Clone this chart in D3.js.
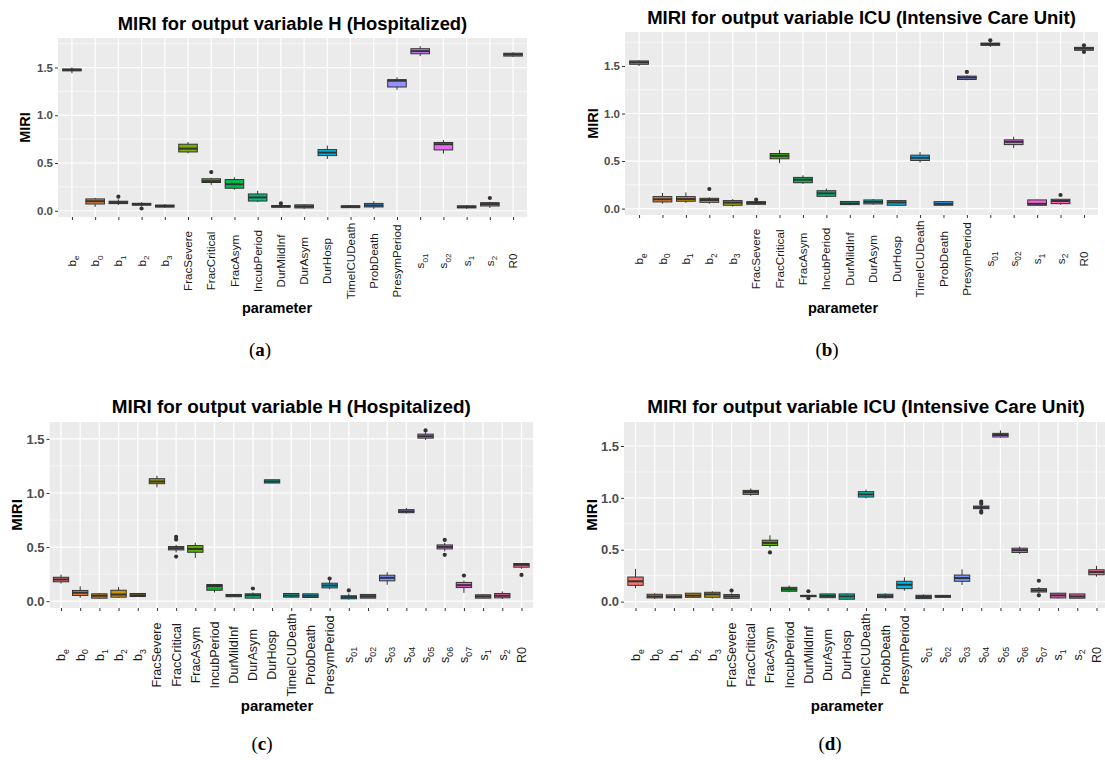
<!DOCTYPE html>
<html>
<head>
<meta charset="utf-8">
<script src="https://cdn.jsdelivr.net/npm/d3@7"></script>
<style>
  body { margin: 0; background: #fff; }
  svg { display: block; font-family: "Liberation Sans", Arial, sans-serif; }
</style>
</head>
<body>
<svg id="chart" width="1105" height="760"></svg>
<script>
// parameter names, "_" marks a subscript
const paramsAB = ["b_e", "b_0", "b_1", "b_2", "b_3", "FracSevere", "FracCritical", "FracAsym",
  "IncubPeriod", "DurMildInf", "DurAsym", "DurHosp", "TimeICUDeath", "ProbDeath", "PresymPeriod",
  "s_01", "s_02", "s_1", "s_2", "R0"];
const paramsCD = ["b_e", "b_0", "b_1", "b_2", "b_3", "FracSevere", "FracCritical", "FracAsym",
  "IncubPeriod", "DurMildInf", "DurAsym", "DurHosp", "TimeICUDeath", "ProbDeath", "PresymPeriod",
  "s_01", "s_02", "s_03", "s_04", "s_05", "s_06", "s_07", "s_1", "s_2", "R0"];

// [lower whisker, q1, median, q3, upper whisker] per parameter
const boxA = [
  [1.44, 1.465, 1.475, 1.485, 1.50], [0.04, 0.071, 0.10, 0.124, 0.135], [0.06, 0.075, 0.088, 0.10, 0.12],
  [0.045, 0.058, 0.07, 0.078, 0.09], [0.03, 0.038, 0.05, 0.06, 0.07], [0.60, 0.616, 0.651, 0.697, 0.72],
  [0.27, 0.296, 0.31, 0.335, 0.345], [0.22, 0.236, 0.278, 0.327, 0.35], [0.09, 0.102, 0.14, 0.176, 0.21],
  [0.03, 0.038, 0.045, 0.055, 0.06], [0.02, 0.03, 0.045, 0.062, 0.07], [0.542, 0.578, 0.609, 0.641, 0.683],
  [0.03, 0.033, 0.045, 0.052, 0.06], [0.02, 0.04, 0.056, 0.077, 0.10], [1.267, 1.296, 1.362, 1.373, 1.397],
  [1.619, 1.644, 1.672, 1.697, 1.724], [0.598, 0.637, 0.697, 0.715, 0.739], [0.02, 0.03, 0.04, 0.052, 0.06],
  [0.03, 0.05, 0.07, 0.085, 0.095], [1.61, 1.62, 1.637, 1.65, 1.66]
];
const outA = [["b_1", 0.148], ["b_2", 0.024], ["FracCritical", 0.405], ["DurMildInf", 0.077], ["s_2", 0.134]];

const boxB = [
  [1.50, 1.518, 1.539, 1.553, 1.56], [0.052, 0.070, 0.098, 0.126, 0.164], [0.06, 0.077, 0.10, 0.126, 0.17],
  [0.05, 0.066, 0.09, 0.108, 0.12], [0.02, 0.035, 0.063, 0.084, 0.10], [0.04, 0.045, 0.06, 0.073, 0.08],
  [0.479, 0.524, 0.555, 0.579, 0.618], [0.26, 0.272, 0.304, 0.328, 0.35], [0.12, 0.129, 0.16, 0.188, 0.21],
  [0.035, 0.042, 0.055, 0.075, 0.08], [0.04, 0.049, 0.07, 0.091, 0.10], [0.03, 0.035, 0.065, 0.084, 0.09],
  [0.485, 0.506, 0.534, 0.562, 0.594], [0.03, 0.035, 0.05, 0.073, 0.08], [1.35, 1.358, 1.379, 1.393, 1.40],
  [1.70, 1.717, 1.731, 1.741, 1.75], [0.636, 0.673, 0.702, 0.723, 0.757], [0.03, 0.035, 0.05, 0.091, 0.095],
  [0.04, 0.052, 0.08, 0.098, 0.10], [1.66, 1.665, 1.683, 1.696, 1.70]
];
const outB = [["b_2", 0.206], ["FracSevere", 0.094], ["PresymPeriod", 1.438], ["s_01", 1.77],
  ["s_2", 0.143], ["R0", 1.717], ["R0", 1.647]];

const boxC = [
  [0.163, 0.179, 0.20, 0.221, 0.246], [0.031, 0.053, 0.077, 0.099, 0.138], [0.02, 0.028, 0.05, 0.068, 0.075],
  [0.03, 0.037, 0.062, 0.101, 0.13], [0.04, 0.043, 0.055, 0.071, 0.075], [1.052, 1.086, 1.107, 1.132, 1.16],
  [0.45, 0.474, 0.489, 0.505, 0.52], [0.40, 0.452, 0.483, 0.514, 0.541], [0.08, 0.101, 0.14, 0.154, 0.16],
  [0.04, 0.041, 0.052, 0.062, 0.065], [0.02, 0.028, 0.055, 0.068, 0.08], [1.09, 1.092, 1.107, 1.122, 1.125],
  [0.03, 0.037, 0.052, 0.071, 0.075], [0.03, 0.034, 0.05, 0.068, 0.07], [0.11, 0.123, 0.145, 0.166, 0.19],
  [0.015, 0.022, 0.037, 0.05, 0.07], [0.025, 0.028, 0.045, 0.062, 0.065], [0.151, 0.188, 0.216, 0.24, 0.268],
  [0.81, 0.818, 0.83, 0.846, 0.86], [1.49, 1.507, 1.525, 1.544, 1.56], [0.46, 0.483, 0.502, 0.52, 0.54],
  [0.077, 0.126, 0.148, 0.173, 0.19], [0.025, 0.028, 0.044, 0.059, 0.065], [0.02, 0.031, 0.05, 0.071, 0.09],
  [0.30, 0.314, 0.336, 0.348, 0.35]
];
const outC = [["FracCritical", 0.594], ["FracCritical", 0.569], ["FracCritical", 0.412], ["DurAsym", 0.117],
  ["PresymPeriod", 0.209], ["s_01", 0.099], ["s_05", 1.578], ["s_06", 0.566], ["s_06", 0.428],
  ["s_07", 0.237], ["R0", 0.243]];

const boxD = [
  [0.129, 0.157, 0.196, 0.237, 0.314], [0.025, 0.036, 0.05, 0.071, 0.08], [0.03, 0.036, 0.046, 0.065, 0.07],
  [0.035, 0.042, 0.058, 0.081, 0.085], [0.03, 0.042, 0.07, 0.09, 0.10], [0.03, 0.032, 0.05, 0.068, 0.08],
  [1.02, 1.034, 1.056, 1.072, 1.09], [0.522, 0.541, 0.566, 0.592, 0.64], [0.09, 0.10, 0.12, 0.138, 0.155],
  [0.045, 0.048, 0.055, 0.06, 0.065], [0.035, 0.038, 0.055, 0.074, 0.075], [0.02, 0.023, 0.05, 0.074, 0.08],
  [0.995, 1.008, 1.034, 1.06, 1.08], [0.03, 0.038, 0.052, 0.071, 0.08], [0.106, 0.125, 0.163, 0.196, 0.234],
  [0.025, 0.029, 0.045, 0.061, 0.07], [0.04, 0.042, 0.05, 0.06, 0.065], [0.16, 0.196, 0.227, 0.256, 0.311],
  [0.88, 0.896, 0.909, 0.921, 0.93], [1.58, 1.587, 1.606, 1.622, 1.65], [0.46, 0.474, 0.496, 0.515, 0.53],
  [0.08, 0.093, 0.109, 0.125, 0.14], [0.03, 0.036, 0.06, 0.081, 0.085], [0.03, 0.033, 0.05, 0.074, 0.075],
  [0.24, 0.259, 0.285, 0.307, 0.345]
];
const outD = [["FracSevere", 0.106], ["FracAsym", 0.474], ["DurMildInf", 0.10], ["DurMildInf", 0.033],
  ["s_04", 0.963], ["s_04", 0.944], ["s_04", 0.873], ["s_04", 0.858], ["s_07", 0.201], ["s_07", 0.061]];

const yTicks = [0, 0.5, 1.0, 1.5];
const yMinor = [0.25, 0.75, 1.25, 1.75];

const titleH = "MIRI for output variable H (Hospitalized)";
const titleICU = "MIRI for output variable ICU (Intensive Care Unit)";

// ggplot-like hue palette (polar LUV, c=100, l=65)
function hclHex(h, c, l) {
  const hr = h * Math.PI / 180;
  const U = c * Math.cos(hr), V = c * Math.sin(hr);
  const Xn = 95.047, Yn = 100, Zn = 108.883;
  const Y = l > 7.999592 ? Yn * Math.pow((l + 16) / 116, 3) : Yn * l / 903.3;
  const t = Xn + Yn + Zn, x = Xn / t, y = Yn / t;
  const uN = 2 * x / (6 * y - x + 1.5), vN = 4.5 * y / (6 * y - x + 1.5);
  const u = U / (13 * l) + uN, v = V / (13 * l) + vN;
  const X = 9 * Y * u / (4 * v), Z = -X / 3 - 5 * Y + 3 * Y / v;
  const g = a => {
    a = a / 100;
    a = a > 0.00304 ? 1.055 * Math.pow(a, 1 / 2.4) - 0.055 : 12.92 * a;
    return Math.round(Math.max(0, Math.min(1, a)) * 255);
  };
  return d3.rgb(g(3.240479 * X - 1.537150 * Y - 0.498535 * Z),
                g(-0.969256 * X + 1.875992 * Y + 0.041556 * Z),
                g(0.055648 * X - 0.204043 * Y + 1.057311 * Z)).formatHex();
}
const huePal = n => d3.range(n).map(i => hclHex(15 + i * 360 / n, 100, 65));

const svg = d3.select("#chart");

const panels = [
  {cap: "a", title: titleH, cats: paramsAB, box: boxA, out: outA, x0: 58, x1: 527, y0: 38, y1: 217,
   titleY: 30, titleFs: 18.4, tickFs: 11.5, xFs: 11.6, labY: 261, yTitleX: 25, axFs: 14.5,
   axX: 277, axY: 313, capX: 260, capY: 356},
  {cap: "b", title: titleICU, cats: paramsAB, box: boxB, out: outB, x0: 625, x1: 1098, y0: 32, y1: 215,
   titleY: 24, titleFs: 18.5, tickFs: 11.5, xFs: 11.7, labY: 259, yTitleX: 593, axFs: 14.5,
   axX: 843, axY: 313, capX: 827, capY: 356},
  {cap: "c", title: titleH, cats: paramsCD, box: boxC, out: outC, x0: 49.5, x1: 533, y0: 422, y1: 608,
   titleY: 413, titleFs: 18.9, tickFs: 13, xFs: 12.6, labY: 655, yTitleX: 17, axFs: 15,
   axX: 277, axY: 711, capX: 262, capY: 750},
  {cap: "d", title: titleICU, cats: paramsCD, box: boxD, out: outD, x0: 624, x1: 1108, y0: 422, y1: 608,
   titleY: 413, titleFs: 18.9, tickFs: 13, xFs: 12.6, labY: 655, yTitleX: 592, axFs: 15,
   axX: 847, axY: 711, capX: 830, capY: 750}
];

function drawPanel(p) {
  const g = svg.append("g");
  const colors = huePal(p.cats.length);
  const color = d3.scaleOrdinal().domain(p.cats).range(colors);

  const x = d3.scalePoint().domain(p.cats).range([p.x0, p.x1]).padding(0.6);
  const vals = p.box.flat().concat(p.out.map(d => d[1]));
  const lo = d3.min(vals), hi = d3.max(vals), pad = (hi - lo) * 0.05;
  const y = d3.scaleLinear().domain([lo - pad, hi + pad]).range([p.y1, p.y0]);
  const bw = x.step() * 0.8;

  // panel background + grid
  const clip = "clip-" + p.cap;
  g.append("clipPath").attr("id", clip).append("rect")
    .attr("x", p.x0).attr("y", p.y0).attr("width", p.x1 - p.x0).attr("height", p.y1 - p.y0);
  const plot = g.append("g").attr("clip-path", `url(#${clip})`);
  plot.append("rect").attr("x", p.x0).attr("y", p.y0)
    .attr("width", p.x1 - p.x0).attr("height", p.y1 - p.y0).attr("fill", "#EBEBEB");
  plot.selectAll(".minor").data(yMinor.filter(v => v < hi + pad)).enter().append("line")
    .attr("x1", p.x0).attr("x2", p.x1).attr("y1", d => y(d)).attr("y2", d => y(d))
    .attr("stroke", "#fff").attr("stroke-width", 0.6);
  plot.selectAll(".major").data(yTicks).enter().append("line")
    .attr("x1", p.x0).attr("x2", p.x1).attr("y1", d => y(d)).attr("y2", d => y(d))
    .attr("stroke", "#fff").attr("stroke-width", 1.2);
  plot.selectAll(".vgrid").data(p.cats).enter().append("line")
    .attr("x1", d => x(d)).attr("x2", d => x(d)).attr("y1", p.y0).attr("y2", p.y1)
    .attr("stroke", "#fff").attr("stroke-width", 1.2);

  // boxes
  const rows = p.cats.map((c, i) => ({c, s: p.box[i]}));
  const bx = plot.selectAll(".bx").data(rows).enter().append("g");
  bx.append("line").attr("x1", d => x(d.c)).attr("x2", d => x(d.c))
    .attr("y1", d => y(d.s[0])).attr("y2", d => y(d.s[4]))
    .attr("stroke", "#333").attr("stroke-width", 1);
  bx.append("rect").attr("x", d => x(d.c) - bw / 2).attr("width", bw)
    .attr("y", d => y(d.s[3])).attr("height", d => y(d.s[1]) - y(d.s[3]))
    .attr("fill", d => color(d.c)).attr("stroke", "#333").attr("stroke-width", 1);
  bx.append("line").attr("x1", d => x(d.c) - bw / 2).attr("x2", d => x(d.c) + bw / 2)
    .attr("y1", d => y(d.s[2])).attr("y2", d => y(d.s[2]))
    .attr("stroke", "#333").attr("stroke-width", 2);
  plot.selectAll(".out").data(p.out).enter().append("circle")
    .attr("cx", d => x(d[0])).attr("cy", d => y(d[1])).attr("r", 2.1).attr("fill", "#333");

  // y axis
  const ya = g.append("g").attr("transform", `translate(${p.x0},0)`)
    .call(d3.axisLeft(y).tickValues(yTicks).tickSize(3).tickPadding(2).tickFormat(d3.format(".1f")));
  ya.select(".domain").remove();
  ya.selectAll("line").attr("stroke", "#333");
  ya.selectAll("text").attr("font-family", null).attr("font-size", p.tickFs)
    .attr("font-weight", "bold").attr("fill", "#4D4D4D");

  // x axis
  const xa = g.append("g").attr("transform", `translate(0,${p.y1})`)
    .call(d3.axisBottom(x).tickSize(3).tickFormat(""));
  xa.select(".domain").remove();
  xa.selectAll("line").attr("stroke", "#333");
  xa.selectAll("text").remove();

  const lab = g.selectAll(".xl").data(p.cats).enter().append("text")
    .attr("transform", d => `translate(${x(d)},${p.labY}) rotate(-90)`)
    .attr("text-anchor", "middle").attr("dy", "0.35em")
    .attr("font-size", p.xFs).attr("fill", "#1a1a1a");
  lab.each(function(d) {
    const [base, sub] = d.split("_");
    const t = d3.select(this);
    t.append("tspan").text(base);
    if (sub) t.append("tspan").attr("font-size", p.xFs * 0.7).attr("dy", p.xFs * 0.3).text(sub);
  });

  // titles
  g.append("text").attr("x", (p.x0 + p.x1) / 2).attr("y", p.titleY).attr("text-anchor", "middle")
    .attr("font-size", p.titleFs).attr("font-weight", "bold").attr("fill", "#000").text(p.title);
  g.append("text").attr("transform", `translate(${p.yTitleX},${(p.y0 + p.y1) / 2}) rotate(-90)`)
    .attr("text-anchor", "middle").attr("dy", "0.35em")
    .attr("font-size", p.axFs).attr("font-weight", "bold").attr("fill", "#000").text("MIRI");
  g.append("text").attr("x", p.axX).attr("y", p.axY).attr("text-anchor", "middle")
    .attr("font-size", p.axFs).attr("font-weight", "bold").attr("fill", "#000").text("parameter");

  const cap = g.append("text").attr("x", p.capX).attr("y", p.capY).attr("text-anchor", "middle")
    .attr("font-family", "'Liberation Serif', 'DejaVu Serif', serif").attr("font-size", 19).attr("fill", "#000");
  cap.append("tspan").text("(");
  cap.append("tspan").attr("font-weight", "bold").text(p.cap);
  cap.append("tspan").text(")");
}

panels.forEach(drawPanel);
</script>
</body>
</html>
